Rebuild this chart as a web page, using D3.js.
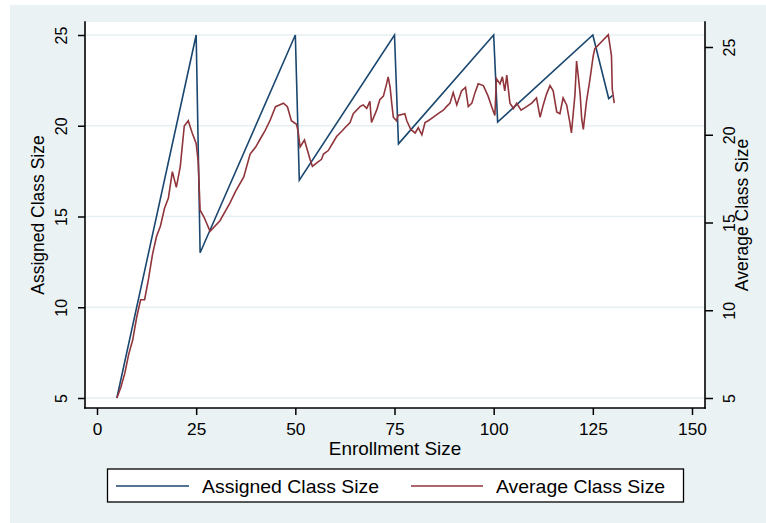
<!DOCTYPE html>
<html>
<head>
<meta charset="utf-8">
<script src="https://cdn.jsdelivr.net/npm/d3@7"></script>
<style>
  html, body { margin: 0; padding: 0; background: #ffffff; }
  svg { display: block; font-family: "Liberation Sans", Arial, sans-serif; }
</style>
</head>
<body>
<svg id="chart" width="766" height="523"></svg>
<script>
// Assigned class size (corner points of the enrollment rule, by enrollment)
const assignedEnroll = [5, 25, 26, 50, 51, 75, 76, 100, 101, 125, 129, 130];
const assignedSize   = [5, 25, 13, 25, 17, 25, 19, 25, 20.2, 25, 21.5, 21.67];

// Average observed class size, by enrollment
const averageEnroll = [5, 6, 7, 8, 9, 10, 11, 12, 13, 14, 15, 16, 17, 18, 19, 20, 21, 22, 23, 24, 25, 25.5,
  26, 27, 28.5, 31, 33.5, 35, 37, 38.6, 40, 41, 42.3, 43.6, 45, 46, 47, 48, 49, 50.3, 50.7,
  51.2, 52.3, 53.7, 54.3, 55.4, 56.6, 57.1, 58.3, 59.1, 60.4, 61.7, 62.5, 63.8, 64.6, 66.3,
  67.1, 68, 68.8, 69.2, 70.5, 71.3, 72.2, 73, 73.4, 73.9, 74.3, 74.7, 75.5, 75.9, 77.6,
  78.1, 79.1, 80.2, 81, 81.9, 82.7, 83.5, 84.8, 86, 87.3, 88.1, 89, 89.8, 90.7, 91.9, 92.9,
  93.6, 94.5, 95.3, 96.1, 97.4, 98.6, 99.5, 100.3, 100.7, 101.6, 102.2, 102.8, 103.3, 104.1,
  105, 105.8, 106.9, 108.3, 109.6, 110.8, 111.7, 112.5, 113.3, 114.2, 115, 115.9, 116.7,
  117.5, 118.4, 119.2, 119.6, 120.5, 120.9, 121.3, 121.8, 122.2, 122.6, 123.4, 124.3,
  125.1, 125.5, 128.9, 129.7, 129.9, 130.4];
const averageSize = [5.0, 5.6, 6.4, 7.5, 8.3, 9.6, 10.6, 10.6, 11.8, 13.2, 14.2, 14.8, 15.8, 16.4, 17.9, 17.0, 18.2, 20.5, 20.8, 20.1, 19.5, 18.5,
  15.7, 15.3, 14.5, 15.1, 16.1, 16.8, 17.6, 18.9, 19.3, 19.7, 20.2, 20.8, 21.6, 21.7, 21.8, 21.6, 20.8, 20.6, 20.2,
  19.3, 19.7, 18.6, 18.2, 18.4, 18.6, 18.9, 19.1, 19.4, 19.9, 20.2, 20.4, 20.7, 21.2, 21.6,
  21.7, 21.5, 21.9, 20.7, 21.4, 22.0, 22.2, 22.9, 23.3, 22.7, 21.8, 21.0, 20.8, 21.1, 21.2,
  20.8, 20.3, 20.1, 20.4, 20.0, 20.7, 20.8, 21.0, 21.2, 21.4, 21.6, 21.8, 22.4, 21.7, 22.5, 22.7,
  21.6, 21.8, 22.4, 22.9, 22.8, 22.2, 21.6, 21.1, 23.2, 22.9, 23.3, 22.5, 23.4, 21.8,
  21.5, 21.8, 21.4, 21.6, 21.8, 22.1, 21.0, 21.7, 22.3, 22.8, 22.5, 21.3, 21.2,
  22.1, 21.7, 20.7, 20.1, 22.3, 24.2, 23.4, 22.3, 20.9, 20.3, 21.9, 23.2,
  24.5, 24.9, 25.7, 24.5, 22.6, 21.8];

// Axis ticks
const xTicks = [0, 25, 50, 75, 100, 125, 150];
const yTicks = [5, 10, 15, 20, 25];

// Legend entries
const seriesNames = ["Assigned Class Size", "Average Class Size"];
const seriesColors = ["#1a476f", "#90353b"];

// ---- layout ----
const W = 766, H = 523;
const plot = { left: 85, right: 705, top: 22, bottom: 408 };
const K = 1.08;                 // slight horizontal widening of glyphs
const TICK_FONT = 16, TITLE_FONT = 17.5, LEGEND_FONT = 18;

const svg = d3.select("#chart");

const x = d3.scaleLinear().domain([0, 150]).range([97, 692]);
const yLeft = d3.scaleLinear().domain([5, 25]).range([398, 35]);
const yRight = d3.scaleLinear().domain([5, 25]).range([398, 47]);

// outer graph region
svg.append("rect").attr("x", 10).attr("y", 5).attr("width", W - 10).attr("height", H - 5)
  .attr("fill", "#eaf2f3");

// plot region
svg.append("rect").attr("x", plot.left).attr("y", plot.top)
  .attr("width", plot.right - plot.left).attr("height", plot.bottom - plot.top)
  .attr("fill", "#ffffff");

// horizontal grid lines at the left-axis ticks
svg.append("g").selectAll("line").data(yTicks).join("line")
  .attr("x1", plot.left).attr("x2", plot.right)
  .attr("y1", d => yLeft(d)).attr("y2", d => yLeft(d))
  .attr("stroke", "#e6eff1").attr("stroke-width", 1.6);

// series lines
const assigned = assignedEnroll.map((e, i) => [e, assignedSize[i]]);
const average = averageEnroll.map((e, i) => [e, averageSize[i]]);

svg.append("path").datum(assigned)
  .attr("fill", "none").attr("stroke", seriesColors[0]).attr("stroke-width", 1.6)
  .attr("stroke-linejoin", "miter")
  .attr("d", d3.line().x(d => x(d[0])).y(d => yLeft(d[1])));

svg.append("path").datum(average)
  .attr("fill", "none").attr("stroke", seriesColors[1]).attr("stroke-width", 1.6)
  .attr("d", d3.line().x(d => x(d[0])).y(d => yRight(d[1])));

// axes
function styleAxis(g) {
  g.select(".domain").remove();
  g.attr("font-family", null).attr("font-size", TICK_FONT).attr("color", "#000");
  g.selectAll(".tick line").attr("stroke-width", 1.5);
  g.selectAll(".tick text").attr("fill", "#000").attr("x", 0).attr("y", 0).attr("dy", null)
    .attr("text-anchor", "middle");
}

const gx = svg.append("g").attr("transform", `translate(0,${plot.bottom})`)
  .call(d3.axisBottom(x).tickValues(xTicks).tickSize(7).tickSizeOuter(0));
styleAxis(gx);
gx.selectAll(".tick text").attr("transform", `translate(0,26.5) scale(${K},1)`);

const gl = svg.append("g").attr("transform", `translate(${plot.left},0)`)
  .call(d3.axisLeft(yLeft).tickValues(yTicks).tickSize(7).tickSizeOuter(0));
styleAxis(gl);
gl.selectAll(".tick text").attr("transform", `translate(-18.5,0) scale(${K},1) rotate(-90)`);

const gr = svg.append("g").attr("transform", `translate(${plot.right},0)`)
  .call(d3.axisRight(yRight).tickValues(yTicks).tickSize(8).tickSizeOuter(0));
styleAxis(gr);
gr.selectAll(".tick text").attr("transform", `translate(30,0) scale(${K},1) rotate(-90)`);

// axis lines
const axisLines = [
  [plot.left, plot.top, plot.left, plot.bottom],
  [plot.right, plot.top, plot.right, plot.bottom],
  [plot.left, plot.bottom, plot.right, plot.bottom]
];
svg.append("g").selectAll("line").data(axisLines).join("line")
  .attr("x1", d => d[0]).attr("y1", d => d[1]).attr("x2", d => d[2]).attr("y2", d => d[3])
  .attr("stroke", "#000").attr("stroke-width", 1.6).attr("stroke-linecap", "square");

// axis titles
function label(txt, tx, ty, rot, size, anchor) {
  svg.append("text")
    .attr("transform", `translate(${tx},${ty}) scale(${K},1)` + (rot ? ` rotate(${rot})` : ""))
    .attr("text-anchor", anchor || "middle")
    .attr("font-size", size).attr("fill", "#000")
    .text(txt);
}
label("Enrollment Size", (plot.left + plot.right) / 2, 455, 0, TITLE_FONT);
label("Assigned Class Size", 43.5, 215, -90, TITLE_FONT);
label("Average Class Size", 748, 215, -90, TITLE_FONT);

// legend
const legend = svg.append("g");
legend.append("rect").attr("x", 107.5).attr("y", 469).attr("width", 576).attr("height", 33)
  .attr("fill", "#ffffff").attr("stroke", "#000").attr("stroke-width", 1.3);
const legendItems = [
  { x1: 116, x2: 189, tx: 202 },
  { x1: 411, x2: 483, tx: 496 }
];
legendItems.forEach((it, i) => {
  legend.append("line").attr("x1", it.x1).attr("x2", it.x2).attr("y1", 486).attr("y2", 486)
    .attr("stroke", seriesColors[i]).attr("stroke-width", 1.5);
  legend.append("text")
    .attr("transform", `translate(${it.tx},493) scale(${K},1)`)
    .attr("font-size", LEGEND_FONT).attr("fill", "#000")
    .text(seriesNames[i]);
});
</script>
</body>
</html>
